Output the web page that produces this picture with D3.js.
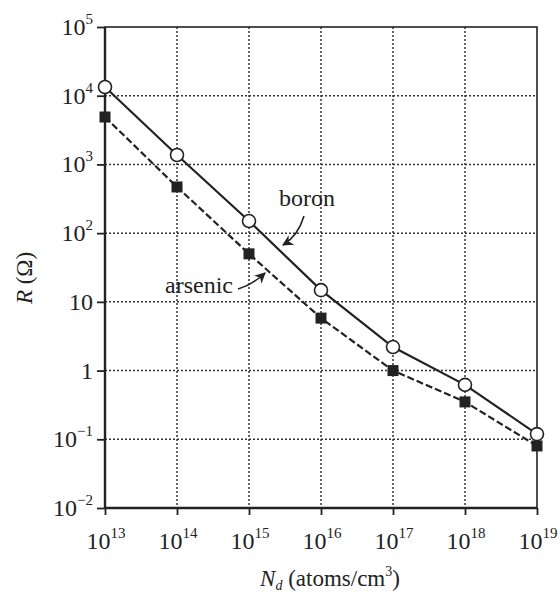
<!DOCTYPE html>
<html><head><meta charset="utf-8">
<script src="https://cdn.jsdelivr.net/npm/d3@7"></script>
<style>body{margin:0;background:#fff}svg{display:block}</style>
</head><body><svg id="c" width="560" height="592"></svg>
<script>
// ---- data ----
const exponentsX = [13, 14, 15, 16, 17, 18, 19];
const boron   = [13400, 1370, 150, 14.8, 2.2, 0.62, 0.119];
const arsenic = [4900, 470, 50, 5.8, 1.0, 0.35, 0.080];
const yTickExps = [5, 4, 3, 2, 1, 0, -1, -2];
const yTickLabels = [["10","5"],["10","4"],["10","3"],["10","2"],["10",""],["1",""],["10","−1"],["10","−2"]];
const xTickLabels = exponentsX.map(e => ["10", String(e)]);
const xTitle = ["N", "d", " (atoms/cm", "3", ")"];
const yTitle = "R (Ω)";
const seriesNames = ["boron", "arsenic"];

const FONT = "'Liberation Serif', 'DejaVu Serif', 'Times New Roman', serif";
const svg = d3.select("#c").attr("font-family", FONT);
const m = {l:105, r:537, t:27, b:508};
const x = d3.scaleLog().domain([1e13, 1e19]).range([m.l, m.r]);
const y = d3.scaleLog().domain([1e-2, 1e5]).range([m.b, m.t]);
const ink = "#222";

// grid
const g = svg.append("g");
g.selectAll(".gx").data(exponentsX.slice(1, -1)).join("line")
  .attr("x1", d => x(Math.pow(10, d))).attr("x2", d => x(Math.pow(10, d)))
  .attr("y1", m.t).attr("y2", m.b)
  .attr("stroke", "#333").attr("stroke-width", 1.5).attr("stroke-dasharray", "2,2");
g.selectAll(".gy").data(yTickExps.slice(1, -1)).join("line")
  .attr("y1", d => y(Math.pow(10, d))).attr("y2", d => y(Math.pow(10, d)))
  .attr("x1", m.l).attr("x2", m.r)
  .attr("stroke", "#333").attr("stroke-width", 1.5).attr("stroke-dasharray", "2,2");

// frame
svg.append("rect").attr("x", m.l).attr("y", m.t).attr("width", m.r - m.l).attr("height", m.b - m.t)
  .attr("fill", "none").attr("stroke", ink).attr("stroke-width", 1.6);
svg.append("line").attr("x1", m.l).attr("x2", m.l).attr("y1", m.t).attr("y2", m.b).attr("stroke", ink).attr("stroke-width", 2.4);
svg.append("line").attr("x1", m.l).attr("x2", m.r).attr("y1", m.b).attr("y2", m.b).attr("stroke", ink).attr("stroke-width", 2.4);

// axes (ticks)
const xAxis = d3.axisBottom(x).tickValues(exponentsX.map(e => Math.pow(10, e))).tickSize(7).tickFormat("");
const yAxis = d3.axisLeft(y).tickValues(yTickExps.map(e => Math.pow(10, e))).tickSize(8).tickFormat("");
const gx = svg.append("g").attr("transform", `translate(0,${m.b})`).call(xAxis);
const gy = svg.append("g").attr("transform", `translate(${m.l},0)`).call(yAxis);
[gx, gy].forEach(a => { a.select(".domain").remove(); a.selectAll("line").attr("stroke", ink).attr("stroke-width", 1.8); });

// y tick labels
yTickExps.forEach((e, i) => {
  const t = svg.append("text").attr("x", 93).attr("y", y(Math.pow(10, e)) + 8)
    .attr("text-anchor", "end").attr("font-size", 24).attr("fill", ink);
  const [base, sup] = yTickLabels[i];
  t.append("tspan").text(base);
  if (sup) t.append("tspan").attr("dy", -11).attr("font-size", 15).text(sup);
});
// x tick labels
exponentsX.forEach((e, i) => {
  const t = svg.append("text").attr("x", x(Math.pow(10, e)) + 1).attr("y", 549)
    .attr("text-anchor", "middle").attr("font-size", 24).attr("fill", ink);
  t.append("tspan").text(xTickLabels[i][0]);
  t.append("tspan").attr("dy", -11).attr("font-size", 15).text(xTickLabels[i][1]);
});

// titles
const xt = svg.append("text").attr("x", 330).attr("y", 586).attr("text-anchor", "middle").attr("font-size", 23).attr("fill", ink);
xt.append("tspan").attr("font-style", "italic").text(xTitle[0]);
xt.append("tspan").attr("dy", 4).attr("font-size", 14).attr("font-style", "italic").text(xTitle[1]);
xt.append("tspan").attr("dy", -4).text(xTitle[2]);
xt.append("tspan").attr("dy", -10).attr("font-size", 14).text(xTitle[3]);
xt.append("tspan").attr("dy", 10).text(xTitle[4]);
const yt = svg.append("text").attr("transform", "translate(32,278) rotate(-90)").attr("text-anchor", "middle").attr("font-size", 23).attr("fill", ink);
yt.append("tspan").attr("font-style", "italic").text(yTitle[0]);
yt.append("tspan").text(yTitle.slice(1));

// lines
const line = d3.line().x((d, i) => x(Math.pow(10, exponentsX[i]))).y(d => y(d));
svg.append("path").datum(arsenic).attr("d", line).attr("fill", "none").attr("stroke", ink)
  .attr("stroke-width", 2.2).attr("stroke-dasharray", "7,3");
svg.append("path").datum(boron).attr("d", line).attr("fill", "none").attr("stroke", ink).attr("stroke-width", 2.2);

// markers
svg.selectAll(".sq").data(arsenic).join("rect")
  .attr("x", (d, i) => x(Math.pow(10, exponentsX[i])) - 5.5).attr("y", d => y(d) - 5.5)
  .attr("width", 11).attr("height", 11).attr("fill", "#222");
svg.selectAll(".ci").data(boron).join("circle")
  .attr("cx", (d, i) => x(Math.pow(10, exponentsX[i]))).attr("cy", d => y(d)).attr("r", 6.5)
  .attr("fill", "#fff").attr("stroke", ink).attr("stroke-width", 1.6);

// annotations
svg.append("defs").append("marker").attr("id", "ah").attr("viewBox", "0 0 10 10").attr("refX", 9).attr("refY", 5)
  .attr("markerWidth", 11).attr("markerHeight", 11).attr("markerUnits", "userSpaceOnUse").attr("orient", "auto")
  .append("path").attr("d", "M0,0 L10,5 L0,10 L3,5 Z").attr("fill", ink);
svg.append("text").attr("x", 307).attr("y", 206).attr("text-anchor", "middle").attr("font-size", 24).attr("fill", ink).text(seriesNames[0]);
svg.append("path").attr("d", "M304,216 Q298,236 283,245").attr("fill", "none").attr("stroke", ink).attr("stroke-width", 1.6).attr("marker-end", "url(#ah)");
svg.append("text").attr("x", 199).attr("y", 293).attr("text-anchor", "middle").attr("font-size", 24).attr("fill", ink).text(seriesNames[1]);
svg.append("path").attr("d", "M238,289 Q252,285 265,273").attr("fill", "none").attr("stroke", ink).attr("stroke-width", 1.6).attr("marker-end", "url(#ah)");
</script></body></html>
